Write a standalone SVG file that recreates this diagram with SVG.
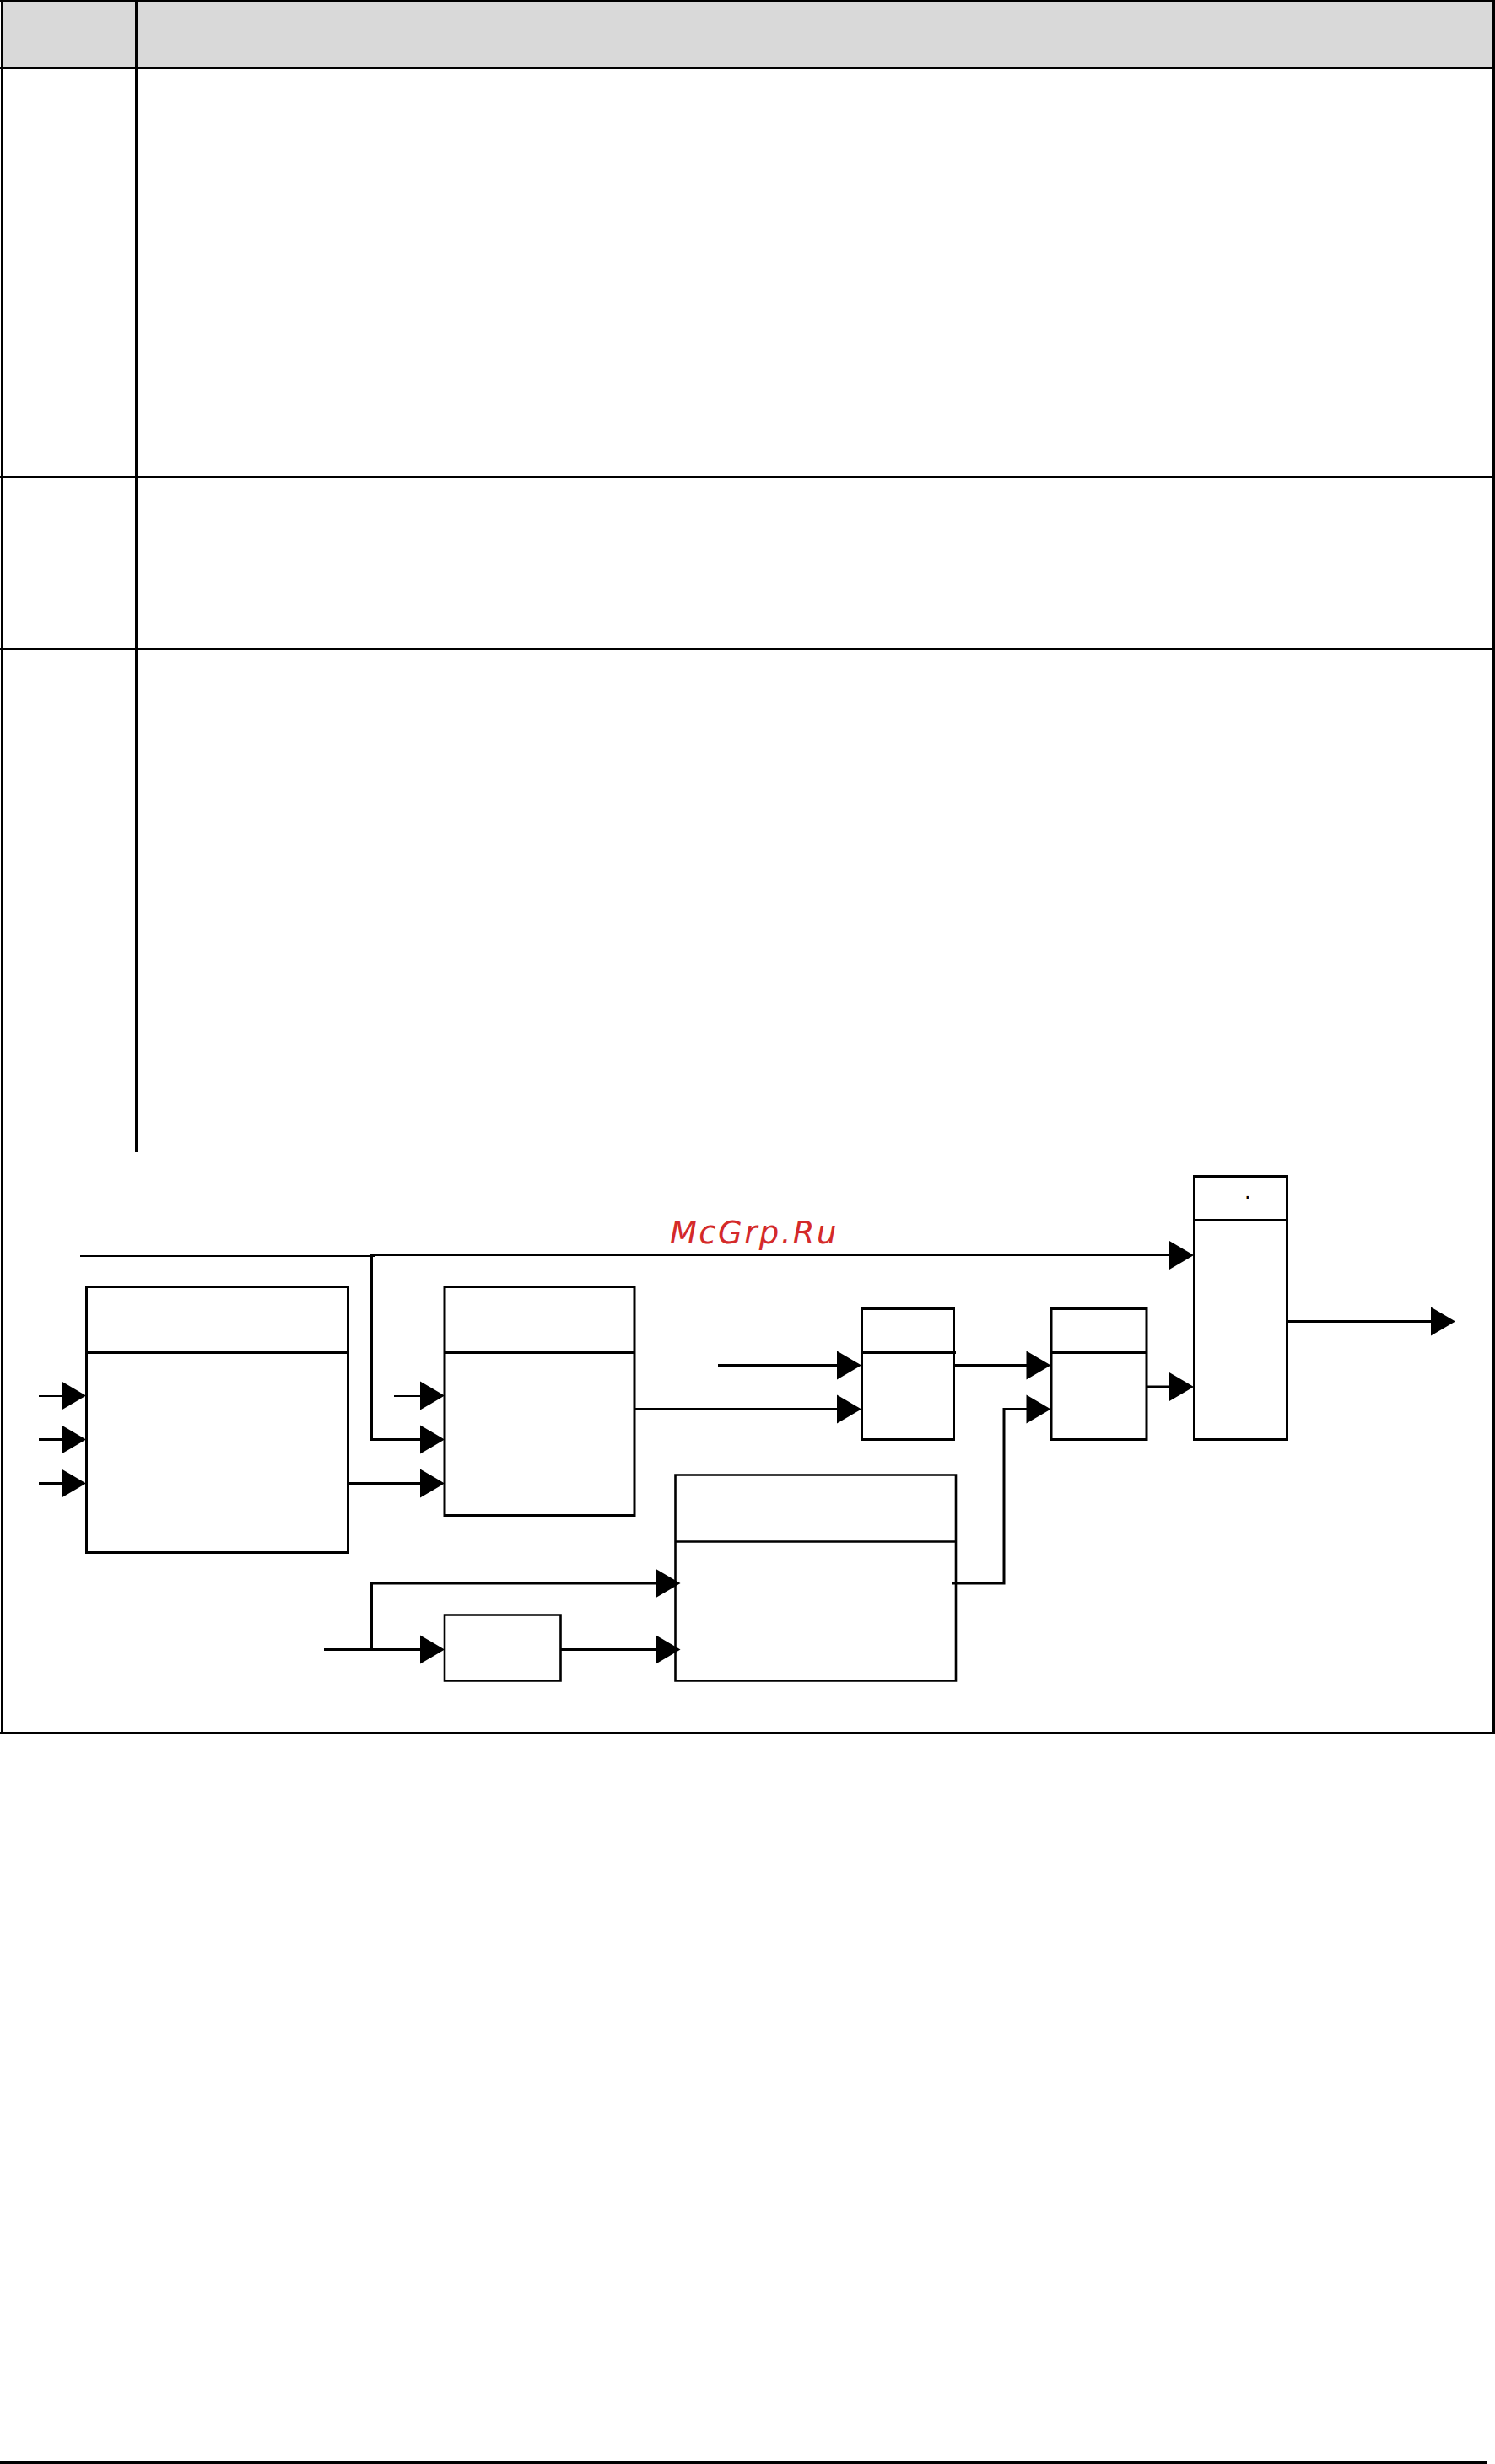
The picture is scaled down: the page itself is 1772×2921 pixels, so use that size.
<svg xmlns="http://www.w3.org/2000/svg" width="1772" height="2921" viewBox="0 0 1772 2921">
<style>
.l{fill:none;stroke:#000;stroke-width:3}
.t{stroke-width:2}
.box{fill:none;stroke:#000;stroke-width:3}
.a{fill:#000;stroke:none}
text{font-family:"DejaVu Sans",sans-serif}
</style>
<defs><polygon id="h" class="a" points="-29,-17 0,0 -29,17"/></defs>
<rect width="1772" height="2921" fill="#fff"/>
<g id="table">
<rect x="2" y="1" width="1768" height="79" fill="#d9d9d9"/>
<path class="l" d="M0 80.5H1772M0 565.5H1772M2.5 0V2054M161.5 0V1366M1770.5 0V2054M0 2054.5H1772M0 2919.5H1762"/>
<path class="l t" d="M0 1H1772M0 769H1772"/>
</g>
<g id="node-a"><path class="box" d="M102.5 1525.5H412.5V1840.5H102.5ZM102.5 1603.5H412.5"/></g>
<g id="node-b"><path class="box" d="M527 1525.5H752V1796.5H527ZM527 1603.5H752"/></g>
<g id="node-c"><path class="box" style="stroke-width:2.6" d="M800.5 1748.5H1133V1992.5H800.5ZM800.5 1827.5H1133"/></g>
<g id="node-d"><path class="box" d="M1021.5 1551.5H1130.5V1706.5H1021.5ZM1021.5 1603.5H1133"/></g>
<g id="node-e"><path class="box" d="M1246 1551.5H1359V1706.5H1246ZM1246 1603.5H1359"/></g>
<g id="node-f"><path class="box" d="M1415.5 1394.5H1525.5V1706.5H1415.5ZM1415.5 1446.5H1525.5"/><text x="1475" y="1421" font-size="24" font-family="Liberation Sans">.</text></g>
<g id="node-g"><path class="box" style="stroke-width:2.6" d="M527 1914.5H664.5V1992.5H527Z"/></g>
<text x="794" y="1474" font-size="37" font-style="italic" letter-spacing="2.4" fill="#d42a2a">McGrp.Ru</text>
<g id="connectors">
<path class="l t" d="M95 1489H445M441 1488H1388M46 1655H76M467 1655H500"/>
<path class="l" d="M440.5 1487V1706.5H500M46 1706.5H76M46 1758.5H76M412.5 1758.5H500M752 1670.5H994M851 1618.5H994M1131 1618.5H1220M1128 1877H1190V1670.5H1220M1359 1644H1388M1525.5 1566.5H1698M384 1955.5H500M664.5 1955.5H779M440.5 1955.5V1877H779"/>
<use href="#h" x="102" y="1654.5"/><use href="#h" x="102" y="1706.5"/><use href="#h" x="102" y="1758.5"/>
<use href="#h" x="527" y="1654.5"/><use href="#h" x="527" y="1706.5"/><use href="#h" x="527" y="1758.5"/>
<use href="#h" x="1021" y="1618.5"/><use href="#h" x="1021" y="1670.5"/>
<use href="#h" x="1245.5" y="1618.5"/><use href="#h" x="1245.5" y="1670.5"/>
<use href="#h" x="1415" y="1488"/><use href="#h" x="1415" y="1644"/>
<use href="#h" x="1725" y="1566.5"/>
<use href="#h" x="527" y="1955.5"/><use href="#h" x="806.5" y="1877"/><use href="#h" x="806.5" y="1955.5"/>
</g>
</svg>
